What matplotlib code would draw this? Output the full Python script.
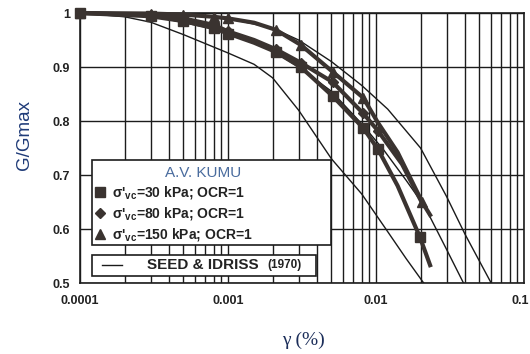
import matplotlib
matplotlib.use("Agg")
import matplotlib.pyplot as plt
from matplotlib.patches import Rectangle
from matplotlib.lines import Line2D
from matplotlib.ticker import FixedLocator, LogLocator, NullFormatter
from matplotlib.transforms import ScaledTranslation

plt.rcParams['font.family'] = ['Liberation Sans', 'DejaVu Sans']

# A.V. Kumu test data (strain %, G/Gmax)
gamma_sq = [0.0001, 0.0003, 0.0005, 0.0008, 0.001, 0.0015, 0.0021, 0.0031, 0.0051, 0.0082, 0.0103, 0.014, 0.0198, 0.0232]
g_sq = [1.0, 0.994, 0.985, 0.972, 0.962, 0.945, 0.928, 0.900, 0.846, 0.787, 0.748, 0.68, 0.585, 0.533]
mk_sq = [0, 1, 2, 3, 4, 6, 7, 8, 9, 10, 12]

gamma_di = [0.0001, 0.0003, 0.0005, 0.0008, 0.001, 0.0015, 0.0021, 0.0031, 0.0051, 0.0082, 0.0103, 0.015, 0.0205]
g_di = [1.0, 0.996, 0.99, 0.978, 0.966, 0.95, 0.933, 0.908, 0.872, 0.814, 0.782, 0.72, 0.648]
mk_di = [0, 1, 2, 3, 4, 6, 7, 8, 9, 10]

gamma_tr = [0.0001, 0.0003, 0.0005, 0.0008, 0.001, 0.0015, 0.0021, 0.0031, 0.0051, 0.0082, 0.0103, 0.014, 0.0205, 0.0232]
g_tr = [1.0, 0.999, 0.997, 0.993, 0.99, 0.982, 0.969, 0.941, 0.891, 0.843, 0.797, 0.742, 0.65, 0.626]
mk_tr = [0, 1, 2, 3, 4, 6, 7, 8, 9, 12]

# Seed & Idriss (1970) curves
gamma_si_up = [0.0001, 0.0004, 0.001, 0.002, 0.003, 0.005, 0.008, 0.012, 0.02, 0.03, 0.04, 0.06]
g_si_up = [1.0, 0.998, 0.99, 0.972, 0.95, 0.91, 0.866, 0.822, 0.75, 0.66, 0.59, 0.5]

gamma_si_mid = [0.0001, 0.0003, 0.001, 0.002, 0.003, 0.005, 0.008, 0.0113, 0.016, 0.0214, 0.03, 0.039]
g_si_mid = [1.0, 0.995, 0.965, 0.93, 0.90, 0.855, 0.795, 0.746, 0.69, 0.641, 0.562, 0.5]

gamma_si_lo = [0.0001, 0.0002, 0.0003, 0.0005, 0.001, 0.0015, 0.002, 0.003, 0.005, 0.008, 0.012, 0.016, 0.021]
g_si_lo = [1.0, 0.993, 0.983, 0.96, 0.926, 0.905, 0.88, 0.82, 0.73, 0.665, 0.595, 0.545, 0.5]

x_ticks = [0.0001, 0.001, 0.01, 0.1]
x_labels = ['0.0001', '0.001', '0.01', '0.1']
y_ticks = [0.5, 0.6, 0.7, 0.8, 0.9, 1.0]
y_labels = ['0.5', '0.6', '0.7', '0.8', '0.9', '1']

ink = '#3a3330'
grid_c = '#1c1c1c'

fig = plt.figure(figsize=(5.3, 3.54), dpi=100)
ax = fig.add_axes([80 / 530, 1 - 283 / 354, 444 / 530, 270 / 354])
ax.set_xscale('log')
ax.set_xlim(0.0001, 0.1)
ax.set_ylim(0.5, 1.0)

ax.xaxis.set_major_locator(FixedLocator(x_ticks))
ax.set_xticklabels(x_labels)
ax.xaxis.set_minor_locator(LogLocator(base=10, subs=range(2, 10)))
ax.xaxis.set_minor_formatter(NullFormatter())
ax.set_yticks(y_ticks)
ax.set_yticklabels(y_labels)
ax.tick_params(which='both', length=0)
ax.tick_params(axis='y', pad=7, labelsize=9)
ax.tick_params(axis='x', pad=9, labelsize=9)
for lab in ax.get_xticklabels() + ax.get_yticklabels():
    lab.set_fontweight('bold')
    lab.set_color('#222222')
# last label sits at the right edge, as in the scan
last = ax.get_xticklabels()[-1]
last.set_horizontalalignment('right')
last.set_transform(last.get_transform() + ScaledTranslation(5 / 100, 0, fig.dpi_scale_trans))

ax.grid(which='both', axis='x', color=grid_c, lw=1.0)
ax.grid(which='major', axis='y', color=grid_c, lw=1.0)
ax.set_axisbelow(True)
for s in ax.spines.values():
    s.set_color(grid_c)
    s.set_linewidth(1.2)

# thin Seed & Idriss lines
for gx, gy in [(gamma_si_up, g_si_up), (gamma_si_mid, g_si_mid), (gamma_si_lo, g_si_lo)]:
    ax.plot(gx, gy, color='#1a1a1a', lw=1.0, zorder=3)

ax.plot(gamma_sq, g_sq, color=ink, lw=3.0, marker='s', ms=6.5, markevery=mk_sq, zorder=4, clip_on=False)
ax.plot(gamma_di, g_di, color=ink, lw=3.0, marker='D', ms=5.5, markevery=mk_di, zorder=4, clip_on=False)
ax.plot(gamma_tr, g_tr, color=ink, lw=3.0, marker='^', ms=7, markevery=mk_tr, zorder=4, clip_on=False)

# legend boxes
ax.add_patch(Rectangle((0.027, 0.141), 0.538, 0.315, transform=ax.transAxes,
                       facecolor='white', edgecolor=grid_c, lw=1.2, zorder=5))
ax.add_patch(Rectangle((0.027, 0.026), 0.505, 0.078, transform=ax.transAxes,
                       facecolor='white', edgecolor=grid_c, lw=1.2, zorder=5))

ax.text(0.277, 0.407, 'A.V. KUMU', transform=ax.transAxes, ha='center', va='center',
        fontsize=11, color='#4a6c9e', zorder=6)
rows = [('s', 6.5, 0.337, '30'), ('D', 5.5, 0.259, '80'), ('^', 7, 0.181, '150')]
for m, ms, yy, p in rows:
    ax.add_line(Line2D([0.045], [yy], transform=ax.transAxes, marker=m, ms=ms,
                       color=ink, ls='none', zorder=6))
    ax.text(0.072, yy, "σ'$_{\\mathregular{vc}}$=" + p + " kPa; OCR=1", transform=ax.transAxes,
            ha='left', va='center', fontsize=10, fontweight='bold', color='#222222', zorder=6)

ax.add_line(Line2D([0.050, 0.095], [0.067, 0.067], transform=ax.transAxes,
                   color='#1a1a1a', lw=1.0, zorder=6))
ax.text(0.151, 0.067, 'SEED & IDRISS', transform=ax.transAxes, ha='left', va='center',
        fontsize=11, fontweight='bold', color='#222222', zorder=6)
ax.text(0.422, 0.067, '(1970)', transform=ax.transAxes, ha='left', va='center',
        fontsize=8.5, fontweight='bold', color='#222222', zorder=6)

fig.text(25 / 530, 1 - 135 / 354, 'G/Gmax', rotation=90, ha='center', va='center',
         fontsize=13.5, color='#1f3b78')
fig.text(303 / 530, 1 - 340 / 354, 'γ (%)', ha='center', va='center',
         fontsize=14, color='#1c2e5a', family=['Liberation Serif', 'DejaVu Serif'])

fig.savefig('out.png', dpi=100)
